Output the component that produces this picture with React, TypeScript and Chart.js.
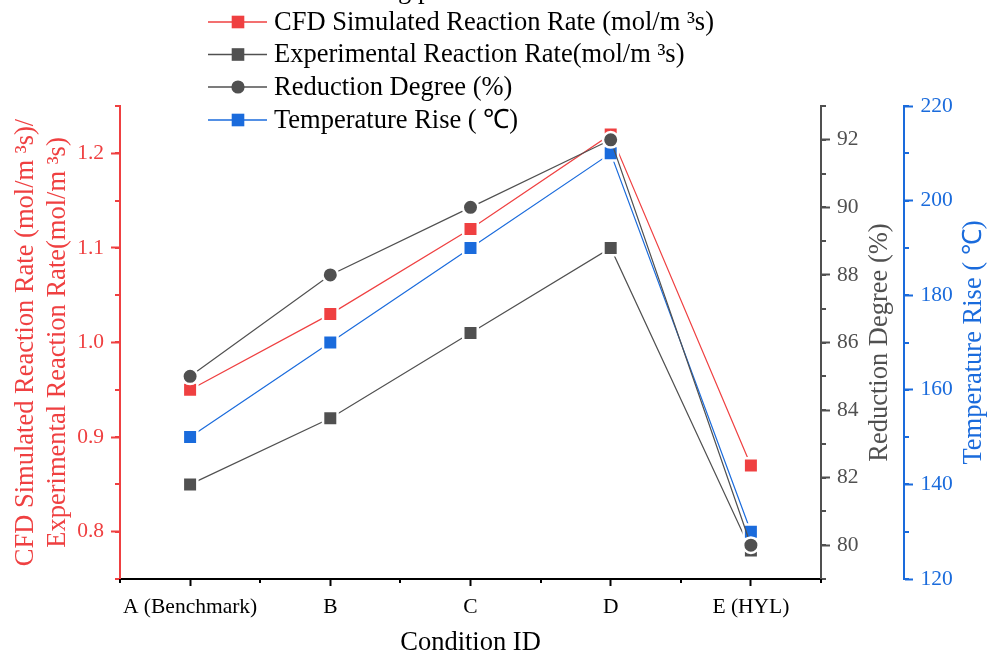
import React, { useEffect, useRef } from 'react';
import { Chart, registerables } from 'chart.js';

Chart.register(...registerables);

// ---------- data ----------
const categories = ['A (Benchmark)', 'B', 'C', 'D', 'E (HYL)'];
const cfdRate = [0.95, 1.03, 1.12, 1.22, 0.87];
const expRate = [0.85, 0.92, 1.01, 1.1, 0.78];
const reductionDegree = [85, 88, 90, 92, 80];
const temperatureRise = [150, 170, 190, 210, 130];

const rateTicks = [0.8, 0.9, 1.0, 1.1, 1.2];
const reductionTicks = [80, 82, 84, 86, 88, 90, 92];
const temperatureTicks = [120, 140, 160, 180, 200, 220];

const legendLabels = [
  'CFD Simulated Reaction Rate (mol/m ³s)',
  'Experimental Reaction Rate(mol/m ³s)',
  'Reduction Degree (%)',
  'Temperature Rise ( ℃)',
];
const leftAxisTitle = ['CFD Simulated Reaction Rate (mol/m ³s)/', 'Experimental Reaction Rate(mol/m ³s)'];
const xAxisTitle = 'Condition ID';
const reductionTitle = 'Reduction Degree (%)';
const temperatureTitle = 'Temperature Rise ( ℃)';
const titleFragment = 'ng p';

// ---------- style ----------
const FONT = "'Liberation Serif', 'Times New Roman', serif";
const RED = '#EF4041';
const GRAY = '#505050';
const BLUE = '#1A6BDC';
const TICK_SIZE = 21.5;
const TITLE_SIZE = 26.5;

const f = (size: number, lineHeight = 1.2) => ({ family: FONT, size, lineHeight });

const seriesStyles = [
  { color: RED, shape: 'rect' },
  { color: GRAY, shape: 'rect' },
  { color: GRAY, shape: 'circle' },
  { color: BLUE, shape: 'rect' },
];

const overlayPlugin = {
  id: 'overlay',
  afterDraw(chart: any) {
    const ctx = chart.ctx as CanvasRenderingContext2D;
    ctx.save();
    // minor ticks on y axes
    const minorY = (id: string, step: number, color: string) => {
      const s = chart.scales[id];
      const left = s.position === 'left';
      const x0 = left ? s.right : s.left;
      const dir = left ? -1 : 1;
      ctx.strokeStyle = color;
      ctx.lineWidth = 2;
      ctx.beginPath();
      for (let v = s.min; v <= s.max + 1e-9; v += step) {
        const y = Math.round(s.getPixelForValue(v));
        ctx.moveTo(x0, y);
        ctx.lineTo(x0 + dir * 5, y);
      }
      ctx.stroke();
    };
    minorY('y', 0.05, RED);
    minorY('yRed', 1, GRAY);
    minorY('yTemp', 10, BLUE);
    // minor ticks on x axis
    const xs = chart.scales.x;
    const xpos: number[] = [xs.left, xs.right];
    for (let i = 0; i < categories.length - 1; i++) {
      xpos.push((xs.getPixelForValue(i) + xs.getPixelForValue(i + 1)) / 2);
    }
    ctx.strokeStyle = '#000';
    ctx.lineWidth = 2;
    ctx.beginPath();
    xpos.forEach((x) => {
      const xx = Math.round(x);
      ctx.moveTo(xx, xs.top);
      ctx.lineTo(xx, xs.top + 4);
    });
    ctx.stroke();

    // right axis titles (reading bottom to top)
    const area = chart.chartArea;
    const midY = (area.top + area.bottom) / 2;
    const vTitle = (text: string, x: number, color: string) => {
      ctx.save();
      ctx.translate(x, midY);
      ctx.rotate(-Math.PI / 2);
      ctx.fillStyle = color;
      ctx.font = `${TITLE_SIZE}px ${FONT}`;
      ctx.textAlign = 'center';
      ctx.textBaseline = 'middle';
      ctx.fillText(text, 0, 0);
      ctx.restore();
    };
    vTitle(reductionTitle, chart.scales.yRed.right - 24, GRAY);
    vTitle(temperatureTitle, chart.scales.yTemp.right - 13, BLUE);

    // title fragment (cut off at top)
    ctx.fillStyle = '#000';
    ctx.font = `${TITLE_SIZE}px ${FONT}`;
    ctx.textAlign = 'left';
    ctx.textBaseline = 'alphabetic';
    ctx.fillText(titleFragment, 384.75, -2);

    // legend
    const rows = [22, 54.5, 87, 120];
    legendLabels.forEach((label, i) => {
      const y = rows[i];
      const st = seriesStyles[i];
      ctx.strokeStyle = st.color;
      ctx.lineWidth = 1.3;
      ctx.beginPath();
      ctx.moveTo(208, y);
      ctx.lineTo(267, y);
      ctx.stroke();
      ctx.fillStyle = st.color;
      if (st.shape === 'rect') {
        ctx.fillRect(238 - 6.3, y - 6.3, 12.6, 12.6);
      } else {
        ctx.beginPath();
        ctx.arc(238, y, 6.6, 0, Math.PI * 2);
        ctx.fill();
      }
      ctx.fillStyle = '#000';
      ctx.font = `${TITLE_SIZE}px ${FONT}`;
      ctx.textAlign = 'left';
      ctx.textBaseline = 'middle';
      ctx.fillText(label, 274, y + 1);
    });
    ctx.restore();
  },
};

function makeDataset(label: string, data: number[], axis: string, color: string, shape: string, order: number) {
  const isRect = shape === 'rect';
  return {
    label,
    data,
    yAxisID: axis,
    borderColor: color,
    backgroundColor: color,
    borderWidth: 1.2,
    pointStyle: shape,
    pointRadius: isRect ? 10.25 : 7.75,
    pointHoverRadius: isRect ? 10.25 : 7.75,
    pointBackgroundColor: color,
    pointBorderColor: '#ffffff',
    pointBorderWidth: 2.5,
    tension: 0,
    clip: false,
    order,
  };
}

export default function App() {
  const ref = useRef<HTMLCanvasElement | null>(null);
  useEffect(() => {
    if (!ref.current) return;
    const chart = new Chart(ref.current, {
      type: 'line',
      data: {
        labels: categories,
        datasets: [
          makeDataset(legendLabels[0], cfdRate, 'y', RED, 'rect', 2),
          makeDataset(legendLabels[1], expRate, 'y', GRAY, 'rect', 3),
          makeDataset(legendLabels[2], reductionDegree, 'yRed', GRAY, 'circle', 0),
          makeDataset(legendLabels[3], temperatureRise, 'yTemp', BLUE, 'rect', 1),
        ] as any,
      },
      options: {
        animation: false,
        responsive: true,
        maintainAspectRatio: false,
        events: [],
        layout: { padding: { top: 106, left: 0, right: 0, bottom: 0 } },
        plugins: { legend: { display: false }, tooltip: { enabled: false }, title: { display: false } },
        scales: {
          x: {
            type: 'category',
            offset: true,
            grid: { display: true, drawOnChartArea: false, drawTicks: true, tickLength: 7, tickWidth: 2, tickColor: '#000', offset: false },
            border: { display: true, color: '#000', width: 2 },
            ticks: { color: '#000', font: f(TICK_SIZE), padding: 8, maxRotation: 0, autoSkip: false },
            title: { display: true, text: xAxisTitle, color: '#000', font: f(TITLE_SIZE, 0.8), padding: 0 },
            afterFit: (s: any) => { s.height = 75; },
          },
          y: {
            type: 'linear',
            position: 'left',
            min: 0.75,
            max: 1.25,
            afterBuildTicks: (s: any) => { s.ticks = rateTicks.map((v) => ({ value: v })); },
            ticks: { color: RED, font: f(TICK_SIZE), padding: 7, callback: (v: any) => Number(v).toFixed(1) },
            grid: { display: true, drawOnChartArea: false, drawTicks: true, tickLength: 9, tickWidth: 2, tickColor: RED },
            border: { display: true, color: RED, width: 2 },
            title: { display: true, text: leftAxisTitle, color: RED, font: f(TITLE_SIZE, 1.21), padding: { top: 10, bottom: 0 } },
            afterFit: (s: any) => { s.width = 120; },
          },
          yRed: {
            type: 'linear',
            position: 'right',
            min: 79,
            max: 93,
            afterBuildTicks: (s: any) => { s.ticks = reductionTicks.map((v) => ({ value: v })); },
            ticks: { color: GRAY, font: f(TICK_SIZE), padding: 7 },
            grid: { display: true, drawOnChartArea: false, drawTicks: true, tickLength: 9, tickWidth: 2, tickColor: GRAY },
            border: { display: true, color: GRAY, width: 2 },
            title: { display: false, text: reductionTitle },
            afterFit: (s: any) => { s.width = 83; },
          },
          yTemp: {
            type: 'linear',
            position: 'right',
            min: 120,
            max: 220,
            afterBuildTicks: (s: any) => { s.ticks = temperatureTicks.map((v) => ({ value: v })); },
            ticks: { color: BLUE, font: f(TICK_SIZE), padding: 7.5 },
            grid: { display: true, drawOnChartArea: false, drawTicks: true, tickLength: 9, tickWidth: 2, tickColor: BLUE },
            border: { display: true, color: BLUE, width: 2 },
            title: { display: false, text: temperatureTitle },
            afterFit: (s: any) => { s.width = 83; },
          },
        } as any,
      },
      plugins: [overlayPlugin],
    });
    return () => chart.destroy();
  }, []);

  return (
    <div style={{ position: 'absolute', left: 0, top: 0, width: 987, height: 654, background: '#fff' }}>
      <canvas ref={ref} />
    </div>
  );
}
